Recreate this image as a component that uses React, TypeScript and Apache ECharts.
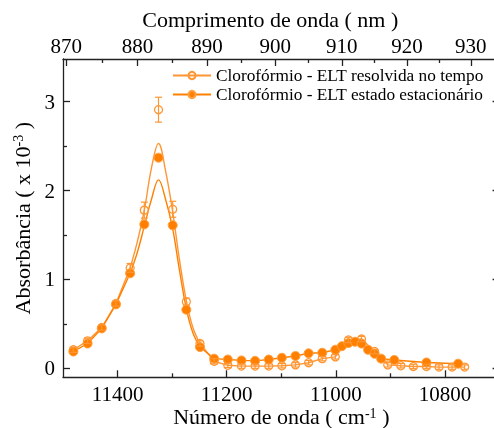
import React, { useEffect, useRef } from 'react';
import * as echarts from 'echarts';

const FONT = 'Liberation Serif';
const NAME_OPEN = 'Clorofórmio - ELT resolvida no tempo';
const NAME_FILLED = 'Clorofórmio - ELT estado estacionário';
const COLOR_OPEN = '#FF9633';
const COLOR_FILLED = '#FF8000';

// Wavenumber (cm^-1) of the measured points
const openX = [11481, 11455, 11429, 11403, 11377, 11351, 11325, 11299, 11274, 11249, 11223, 11198, 11173, 11148, 11123, 11099, 11074, 11050, 11025, 11001, 10977, 10953, 10929, 10905, 10881, 10858, 10834, 10811, 10787, 10764];
const openY = [0.21, 0.31, 0.46, 0.73, 1.13, 1.78, 2.91, 1.79, 0.75, 0.28, 0.08, 0.035, 0.026, 0.026, 0.026, 0.03, 0.04, 0.064, 0.11, 0.13, 0.32, 0.33, 0.19, 0.04, 0.03, 0.022, 0.022, 0.015, 0.015, 0.015];
const openErr = [0.03, 0.03, 0.03, 0.03, 0.05, 0.09, 0.14, 0.09, 0.04, 0.03, 0.03, 0.025, 0.025, 0.025, 0.025, 0.025, 0.025, 0.025, 0.025, 0.025, 0.03, 0.03, 0.025, 0.025, 0.025, 0.025, 0.025, 0.025, 0.025, 0.025];

const filledX = [11481, 11455, 11429, 11403, 11377, 11351, 11325, 11299, 11274, 11249, 11223, 11198, 11173, 11148, 11123, 11099, 11074, 11050, 11025, 11001, 10989, 10977, 10965, 10953, 10941, 10929, 10917, 10893, 10834, 10776];
const filledY = [0.19, 0.28, 0.45, 0.72, 1.07, 1.62, 2.37, 1.61, 0.66, 0.24, 0.11, 0.10, 0.09, 0.085, 0.10, 0.12, 0.14, 0.17, 0.176, 0.21, 0.25, 0.285, 0.30, 0.28, 0.21, 0.165, 0.11, 0.095, 0.067, 0.053];

// points after which the connecting line is interrupted (peak region drawn by fit)
const lineBreaks = [11377, 11351, 11325, 11299, 11274];

// Fitted curves
const fitX = [11377, 11364, 11351, 11338, 11325, 11312, 11299, 11287, 11274, 11262, 11249];
const fitOpen = [1.13, 1.42, 1.78, 2.25, 2.53, 2.22, 1.76, 1.24, 0.76, 0.46, 0.28];
const fitFilled = [1.07, 1.30, 1.60, 1.90, 2.12, 1.90, 1.57, 1.12, 0.67, 0.40, 0.24];

const yMajorTicks = [0, 1, 2, 3];
const yMinorTicks = [0.5, 1.5, 2.5];
const xMajorTicks = [10800, 11000, 11200, 11400];
const xMinorTicks = [10900, 11100, 11300];
const nmMajorTicks = [870, 880, 890, 900, 910, 920, 930];
const nmMinorTicks = [875, 885, 895, 905, 915, 925];

const X_MIN = 10700;
const X_MAX = 11500;
const Y_MIN = -0.1;
const Y_MAX = 3.48;

function withBreaks(xs: number[], ys: number[]) {
  const out: any[] = [];
  xs.forEach((x, i) => {
    out.push([x, ys[i]]);
    if (lineBreaks.includes(x)) out.push([x, null]);
  });
  return out;
}

export default function App() {
  const ref = useRef<HTMLDivElement>(null);
  useEffect(() => {
    if (!ref.current) return;
    const chart = echarts.init(ref.current, null, { renderer: 'svg' });
    const labelStyle = { fontFamily: FONT, fontSize: 21, color: '#000' };
    const nameStyle = { fontFamily: FONT, fontSize: 22, color: '#000' };
    const supRich = { sup: { fontFamily: FONT, fontSize: 14, color: '#000', verticalAlign: 'top', lineHeight: 14 } };
    const axisLine = { show: true, onZero: false, lineStyle: { color: '#222', width: 1.3 } };
    const noLine = { show: false, onZero: false };
    const tickStyle = { color: '#222', width: 1.3 };
    const baseX = { type: 'value', min: X_MIN, max: X_MAX, inverse: true, splitLine: { show: false } };
    const baseY = { type: 'value', min: Y_MIN, max: Y_MAX, splitLine: { show: false } };
    const toNm = (v: number) => String(Math.round(1e7 / v));
    const plain = (v: number) => String(v);
    const nmMajorW = nmMajorTicks.map((l) => 1e7 / l);
    const nmMinorW = nmMinorTicks.map((l) => 1e7 / l);

    chart.setOption({
      animation: false,
      grid: { left: 63, right: -5.6, top: 59, bottom: 50.7, containLabel: false, outerBoundsMode: 'none' },
      legend: {
        left: 167,
        top: 62,
        orient: 'vertical',
        itemWidth: 38,
        itemHeight: 9,
        itemGap: 2,
        textStyle: { fontFamily: FONT, fontSize: 17.3, color: '#000' },
        data: [NAME_OPEN, NAME_FILLED],
      },
      xAxis: [
        {
          ...baseX,
          position: 'bottom',
          axisLine,
          axisTick: { inside: true, length: 7, customValues: xMajorTicks, lineStyle: tickStyle },
          axisLabel: { ...labelStyle, lineHeight: 16, margin: 9, customValues: xMajorTicks, formatter: plain },
          name: 'Número de onda ( cm{sup|-1} )',
          nameLocation: 'middle',
          nameGap: 29,
          nameMoveOverlap: false,
          nameTextStyle: { ...nameStyle, lineHeight: 20, rich: supRich },
        },
        {
          ...baseX,
          position: 'top',
          axisLine,
          axisTick: { inside: true, length: 7, customValues: nmMajorW, lineStyle: tickStyle },
          axisLabel: { ...labelStyle, margin: 3, customValues: nmMajorW, formatter: toNm },
          name: 'Comprimento de onda ( nm )',
          nameLocation: 'middle',
          nameGap: 29,
          nameTextStyle: { ...nameStyle, padding: [0, 22, 0, 0] },
        },
        {
          ...baseX,
          position: 'bottom',
          axisLine: noLine,
          axisTick: { inside: true, length: 4, customValues: xMinorTicks, lineStyle: tickStyle },
          axisLabel: { show: false },
        },
        {
          ...baseX,
          position: 'top',
          axisLine: noLine,
          axisTick: { inside: true, length: 4, customValues: nmMinorW, lineStyle: tickStyle },
          axisLabel: { show: false },
        },
      ],
      yAxis: [
        {
          ...baseY,
          position: 'left',
          axisLine,
          axisTick: { inside: true, length: 7, customValues: yMajorTicks, lineStyle: tickStyle },
          axisLabel: { ...labelStyle, margin: 8, customValues: yMajorTicks, formatter: plain },
          name: 'Absorbância ( x 10{sup|-3} )',
          nameLocation: 'middle',
          nameGap: 28,
          nameTextStyle: { ...nameStyle, rich: supRich },
        },
        {
          ...baseY,
          position: 'left',
          axisLine: noLine,
          axisTick: { inside: true, length: 4, customValues: yMinorTicks, lineStyle: tickStyle },
          axisLabel: { show: false },
        },
        {
          ...baseY,
          position: 'right',
          axisLine,
          axisTick: { inside: true, length: 7, customValues: yMajorTicks, lineStyle: tickStyle },
          axisLabel: { show: false },
        },
      ],
      series: [
        {
          name: NAME_OPEN + ' fit',
          type: 'line',
          smooth: 0.4,
          symbol: 'none',
          data: fitX.map((x, i) => [x, fitOpen[i]]),
          lineStyle: { color: COLOR_OPEN, width: 1.4 },
          z: 2,
        },
        {
          name: NAME_FILLED + ' fit',
          type: 'line',
          smooth: 0.4,
          symbol: 'none',
          data: fitX.map((x, i) => [x, fitFilled[i]]),
          lineStyle: { color: COLOR_FILLED, width: 1.4 },
          z: 2,
        },
        {
          name: NAME_OPEN,
          type: 'line',
          data: withBreaks(openX, openY),
          connectNulls: false,
          symbol: 'circle',
          symbolSize: 8,
          showAllSymbol: true,
          itemStyle: { color: 'rgba(255,255,255,0)', borderColor: COLOR_OPEN, borderWidth: 1.3 },
          lineStyle: { color: COLOR_OPEN, width: 1.4 },
          z: 3,
        },
        {
          name: NAME_FILLED,
          type: 'line',
          data: withBreaks(filledX, filledY),
          connectNulls: false,
          symbol: 'circle',
          symbolSize: 9,
          showAllSymbol: true,
          itemStyle: { color: COLOR_FILLED, borderColor: '#FFA040', borderWidth: 1 },
          lineStyle: { color: COLOR_FILLED, width: 1.4 },
          z: 3,
        },
        {
          name: 'errorbars',
          type: 'custom',
          data: openX.map((x, i) => [x, openY[i] - openErr[i], openY[i] + openErr[i]]),
          renderItem: (params: any, api: any) => {
            const x = api.value(0);
            const p1 = api.coord([x, api.value(2)]);
            const p2 = api.coord([x, api.value(1)]);
            const hw = 3.5;
            const style = { stroke: COLOR_OPEN, lineWidth: 1.2 };
            return {
              type: 'group',
              children: [
                { type: 'line', shape: { x1: p1[0], y1: p1[1], x2: p2[0], y2: p2[1] }, style },
                { type: 'line', shape: { x1: p1[0] - hw, y1: p1[1], x2: p1[0] + hw, y2: p1[1] }, style },
                { type: 'line', shape: { x1: p2[0] - hw, y1: p2[1], x2: p2[0] + hw, y2: p2[1] }, style },
              ],
            };
          },
          z: 4,
        },
      ],
    });
    return () => chart.dispose();
  }, []);
  return <div ref={ref} style={{ position: 'fixed', left: 0, top: 0, width: 494, height: 428 }} />;
}
